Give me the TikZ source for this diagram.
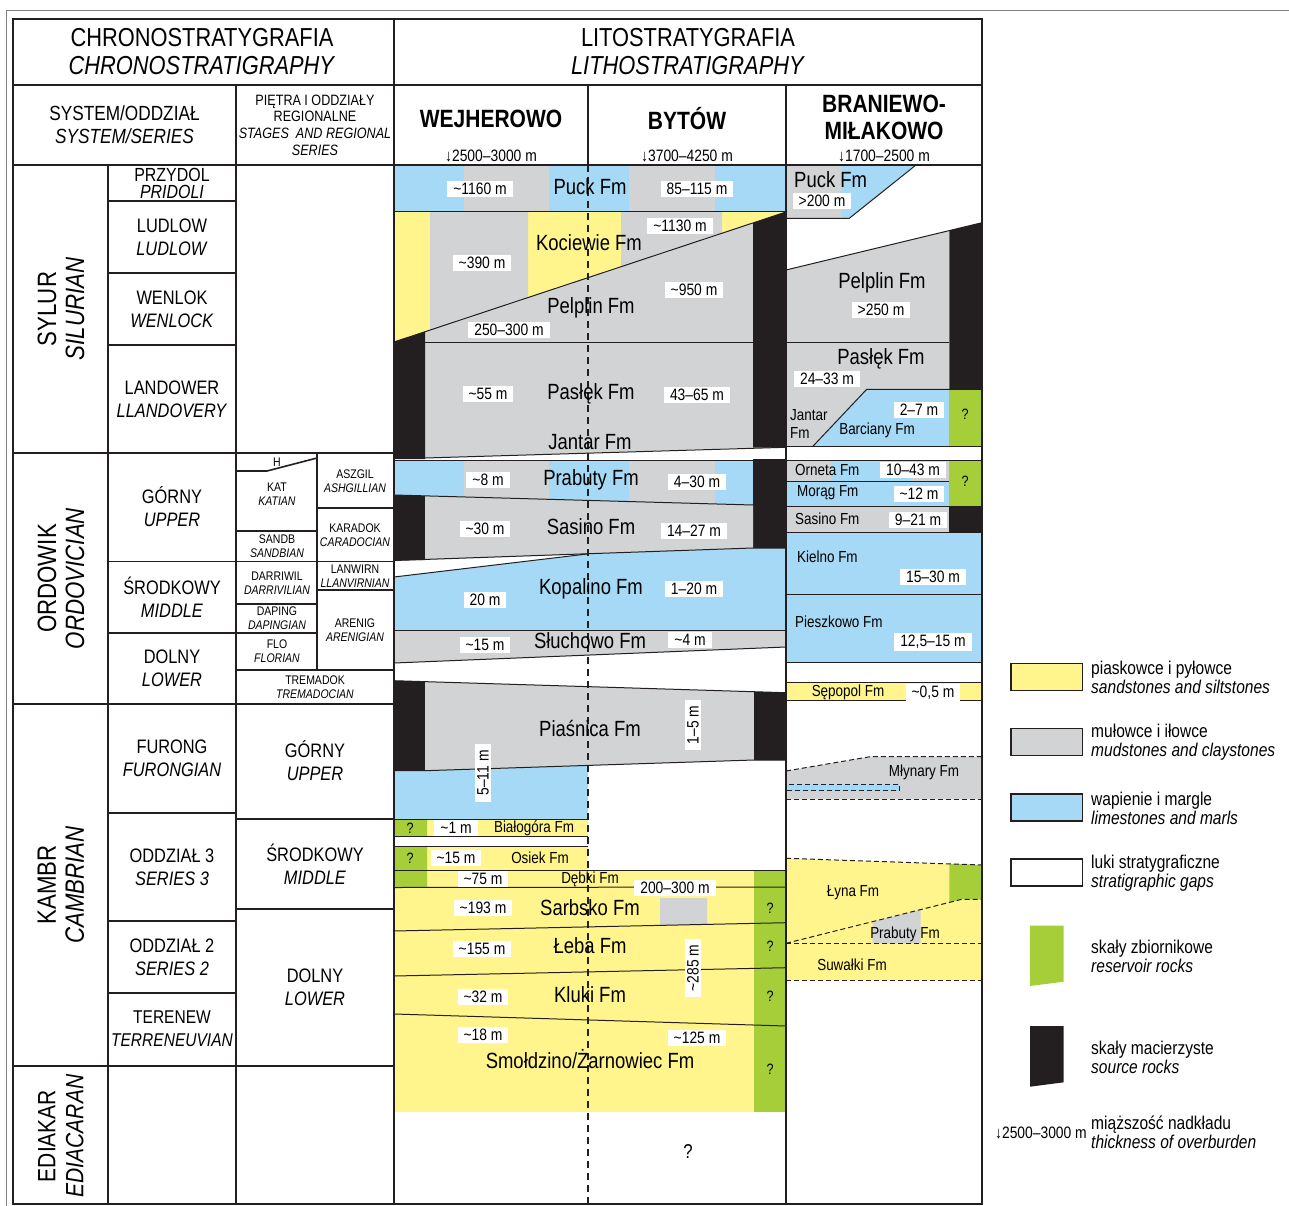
\documentclass[tikz,border=0pt]{standalone}
\usepackage{fontspec}
\setmainfont{Liberation Sans}[FakeStretch=0.84]
\usetikzlibrary{positioning}
\definecolor{sandY}{HTML}{FFF58C}
\definecolor{mudG}{HTML}{D1D3D4}
\definecolor{limeB}{HTML}{A5D9F5}
\definecolor{resG}{HTML}{A6CE39}
\definecolor{srcK}{HTML}{231F20}
\newcommand{\ap}{\textasciitilde}

\begin{document}
\begin{tikzpicture}[x=1pt, y=-1pt,
  grid/.style={draw=srcK, line width=1.6pt},
  bnd/.style={draw=srcK, line width=1pt},
  dbnd/.style={draw=srcK, line width=1pt, dash pattern=on 5pt off 3pt},
  hdr/.style={align=center, inner sep=0pt, font=\fontsize{26}{28}\selectfont},
  hdrb/.style={inner sep=0pt, font=\fontsize{25}{27}\selectfont\bfseries},
  ovb/.style={inner sep=0pt, font=\fontsize{16.5}{16.5}\selectfont},
  ser/.style={align=center, inner sep=0pt, font=\fontsize{19.5}{23}\selectfont},
  stgh/.style={align=center, inner sep=0pt, font=\fontsize{15}{16.7}\selectfont},
  stg/.style={align=center, inner sep=0pt, font=\fontsize{12.5}{13.5}\selectfont},
  sysl/.style={align=center, inner sep=0pt, rotate=90, font=\fontsize{26.5}{28}\selectfont},
  fm/.style={inner sep=0pt, font=\fontsize{22}{22}\selectfont},
  fms/.style={inner sep=0pt, font=\fontsize{16}{16}\selectfont},
  thk/.style={fill=white, inner xsep=6pt, inner ysep=2.5pt, font=\fontsize{16.5}{16.5}\selectfont},
  qm/.style={inner sep=0pt, font=\fontsize{15}{15}\selectfont},
  legbox/.style={draw=srcK, line width=1.2pt},
  leg/.style={anchor=west, align=left, inner sep=0pt, font=\fontsize{18.5}{19}\selectfont}
]
  \useasboundingbox (0,0) rectangle (1289,1206);
  \draw[gray, line width=1pt] (1289,11) -- (6,11) -- (6,1206);

  % Wejherowo - Bytow column
  \fill[limeB] (394,165) rectangle (786,212);
  \fill[mudG] (464,165) rectangle (549,212) (629,165) rectangle (715,212);
  \begin{scope}
    \clip (394,212) -- (786,212) -- (394,342) -- cycle;
    \fill[sandY] (394,212) rectangle (786,342);
    \fill[mudG] (430,212) rectangle (528,342) (621,212) rectangle (722,342);
  \end{scope}
  \fill[mudG] (425,331.7) -- (753,222.9) -- (753,447.7) -- (425,458) -- cycle;
  \fill[srcK] (394,342) -- (425,331.7) -- (425,459) -- (394,459) -- cycle;
  \fill[srcK] (753,222.9) -- (786,212) -- (786,447.3) -- (753,447.7) -- cycle;

  \begin{scope}
    \clip (394,460) -- (753,460) -- (753,505) -- (394,495) -- cycle;
    \fill[limeB] (394,460) rectangle (753,505);
    \fill[mudG] (464,460) rectangle (549,505) (629,460) rectangle (715,505);
  \end{scope}
  \fill[srcK] (753,459) rectangle (786,548);
  \fill[srcK] (394,495) -- (425,496) -- (425,560) -- (394,560.5) -- cycle;
  \fill[mudG] (425,496) -- (753,505) -- (753,548) -- (425,560) -- cycle;
  \fill[limeB] (394,577) -- (587,554) -- (753,548) -- (786,548) -- (786,630) -- (394,630) -- cycle;
  \fill[mudG] (394,630) -- (786,630) -- (786,647) -- (394,663) -- cycle;

  \fill[srcK] (394,680.7) -- (425,681.6) -- (425,770.7) -- (394,770.7) -- cycle;
  \fill[mudG] (425,681.6) -- (754,691.7) -- (754,760) -- (425,770.7) -- cycle;
  \fill[srcK] (754,691.7) -- (786,692.7) -- (786,760) -- (754,760) -- cycle;
  \fill[limeB] (394,770.7) -- (425,770.7) -- (588,765.4) -- (588,819) -- (394,819) -- cycle;

  \fill[sandY] (394,819) rectangle (588,836);
  \fill[sandY] (394,846.7) rectangle (588,870.7);
  \fill[sandY] (394,870.7) rectangle (786,1112);
  \fill[mudG] (660,898) -- (707,898) -- (707,924.4) -- (660,925.4) -- cycle;
  \fill[resG] (394,819) rectangle (427,836) (394,846.7) rectangle (427,887.5);
  \fill[resG] (754,870.7) rectangle (786,1112);

  \draw[bnd] (394,212) -- (786,212);
  \draw[bnd] (394,342) -- (786,212);
  \draw[bnd] (425,342.7) -- (753,342.7);
  \draw[bnd] (425,458) -- (786,447.3);
  \draw[bnd] (394,460) -- (753,460);
  \draw[bnd] (394,495) -- (753,505);
  \draw[bnd] (394,560.5) -- (753,548) -- (786,548);
  \draw[bnd] (394,577) -- (587,554);
  \draw[bnd] (394,630) -- (786,630);
  \draw[bnd] (394,663) -- (786,647);
  \draw[bnd] (394,680.7) -- (786,692.7);
  \draw[bnd] (394,770.7) -- (425,770.7) -- (754,760) -- (786,760);
  \draw[bnd] (394,819) -- (588,819);
  \draw[bnd] (394,836) -- (588,836);
  \draw[bnd] (394,846.7) -- (588,846.7);
  \draw[bnd] (394,870.7) -- (786,870.7);
  \draw[bnd] (394,887.5) -- (786,887);
  \draw[bnd] (394,931) -- (786,922.7);
  \draw[bnd] (394,976) -- (786,967.7);
  \draw[bnd] (394,1014) -- (786,1026);

  % Braniewo - Milakowo column
  \fill[mudG] (786,165) rectangle (841.7,218.3);
  \fill[limeB] (841.7,165) -- (916,165) -- (849.3,218.3) -- (841.7,218.3) -- cycle;
  \draw[bnd] (786,218.3) -- (849.3,218.3) -- (916,165);
  \fill[mudG] (786,270) -- (949.3,230.6) -- (949.3,389.3) -- (866.7,389.3) -- (812.7,446.5) -- (786,446.5) -- cycle;
  \fill[srcK] (949.3,230.6) -- (982,222.7) -- (982,389.3) -- (949.3,389.3) -- cycle;
  \fill[limeB] (866.7,389.3) -- (949.3,389.3) -- (949.3,446.5) -- (812.7,446.5) -- cycle;
  \fill[resG] (949.3,389.3) rectangle (982,446.5);
  \draw[bnd] (786,270) -- (982,222.7);
  \draw[bnd] (786,342.7) -- (949.3,342.7);
  \draw[bnd] (812.7,446.5) -- (866.7,389.3) -- (982,389.3);
  \draw[bnd] (786,446.5) -- (982,446.5);

  \fill[mudG] (786,460) rectangle (949.3,481);
  \fill[limeB] (831,460) rectangle (911,481);
  \fill[limeB] (786,481) rectangle (949.3,506);
  \fill[resG] (949.3,460) rectangle (982,506);
  \fill[mudG] (786,506) rectangle (949.3,532.7);
  \fill[srcK] (949.3,506) rectangle (982,532.7);
  \fill[limeB] (786,532.7) rectangle (982,662);
  \fill[sandY] (786,682.7) rectangle (982,700.7);
  \draw[bnd] (786,481) -- (949.3,481);
  \foreach \yy in {460,506,532.7,594,662,682.7,700.7}
    \draw[bnd] (786,\yy) -- (982,\yy);

  \fill[mudG] (786,771) -- (870,756.7) -- (982,756.7) -- (982,799.3) -- (786,799.3) -- cycle;
  \filldraw[fill=limeB, dbnd] (786,784) rectangle (899.3,790.7);
  \draw[dbnd] (786,771) -- (870,756.7) -- (982,756.7);
  \draw[dbnd] (786,799.3) -- (982,799.3);

  \fill[sandY] (786,858.3) -- (982,865) -- (982,980.7) -- (786,980.7) -- cycle;
  \fill[resG] (949.3,863.7) -- (982,865) -- (982,899.3) -- (961.7,899.3) -- (949.3,902.4) -- cycle;
  \fill[mudG] (872.7,921.6) -- (920.7,909.6) -- (920.7,943.3) -- (872.7,943.3) -- cycle;
  \draw[dbnd] (786,858.3) -- (982,865);
  \draw[dbnd] (786,943.3) -- (961.7,899.3) -- (982,899.3);
  \draw[dbnd] (786,943.3) -- (982,943.3);
  \draw[dbnd] (786,980.7) -- (982,980.7);

  % table grid
  \draw[grid] (13,19) rectangle (982,1204);
  \draw[grid] (13,85) -- (982,85);
  \draw[grid] (13,165) -- (982,165);
  \draw[grid] (394,19) -- (394,1204);
  \draw[grid] (236,85) -- (236,1204);
  \draw[grid] (108,165) -- (108,1204);
  \draw[grid] (786,85) -- (786,1204);
  \draw[grid] (588,85) -- (588,165);
  \draw[grid] (317,453) -- (317,670);
  \foreach \yy in {453,704,1066}
    \draw[grid] (13,\yy) -- (394,\yy);
  \foreach \yy in {201,273,345,561.5,633,813,921,993}
    \draw[grid] (108,\yy) -- (236,\yy);
  \draw[grid] (236,471) -- (267,471) -- (317,458);
  \foreach \yy in {531,561.5,604,633}
    \draw[grid] (236,\yy) -- (317,\yy);
  \foreach \yy in {508,561.5,590}
    \draw[grid] (317,\yy) -- (394,\yy);
  \draw[grid] (236,670) -- (394,670);
  \draw[grid] (236,819) -- (394,819);
  \draw[grid] (236,909) -- (394,909);

  \draw[srcK, line width=1.2pt, dash pattern=on 7pt off 5pt] (588,165) -- (588,1204);

  % headers
  \node[hdr] (chrono) at (202,52) {CHRONOSTRATYGRAFIA\\\textit{CHRONOSTRATIGRAPHY}};
  \node[hdr] (litho) at (688,52) {LITOSTRATYGRAFIA\\\textit{LITHOSTRATIGRAPHY}};
  \node[ser, font=\fontsize{20.5}{23}\selectfont] (sysser) at (124.5,125) {SYSTEM/ODDZIAŁ\\\textit{SYSTEM/SERIES}};
  \node[stgh] (stages) at (315,125) {PIĘTRA I ODDZIAŁY\\REGIONALNE\\\textit{STAGES\ \ AND REGIONAL}\\\textit{SERIES}};
  \node[hdrb] (wej) at (491,119) {WEJHEROWO};
  \node[ovb] (wejOvb) at (491,156) {↓2500–3000 m};
  \node[hdrb] (byt) at (687,119) {BYTÓW};
  \node[ovb] (bytOvb) at (687,156) {↓3700–4250 m};
  \node[hdrb, align=center] (bra) at (884,117) {BRANIEWO-\\MIŁAKOWO};
  \node[ovb] (braOvb) at (884,156) {↓1700–2500 m};

  % systems
  \node[sysl] (sylur) at (61,309) {SYLUR\\\textit{SILURIAN}};
  \node[sysl] (ordowik) at (61,578.5) {ORDOWIK\\\textit{ORDOVICIAN}};
  \node[sysl] (kambr) at (61,885) {KAMBR\\\textit{CAMBRIAN}};
  \node[sysl, font=\fontsize{25}{28}\selectfont] (ediakar) at (61,1136) {EDIAKAR\\\textit{EDIACARAN}};

  % series
  \node[ser, font=\fontsize{19}{17}\selectfont] (pridoli) at (172,183) {PRZYDOL\\\textit{PRIDOLI}};
  \node[ser] (ludlow) at (172,237) {LUDLOW\\\textit{LUDLOW}};
  \node[ser] (wenlok) at (172,309) {WENLOK\\\textit{WENLOCK}};
  \node[ser] (landower) at (172,399) {LANDOWER\\\textit{LLANDOVERY}};
  \node[ser] (ordUp) at (172,507) {GÓRNY\\\textit{UPPER}};
  \node[ser] (ordMid) at (172,597) {ŚRODKOWY\\\textit{MIDDLE}};
  \node[ser] (ordLow) at (172,668) {DOLNY\\\textit{LOWER}};
  \node[ser] (furong) at (172,758) {FURONG\\\textit{FURONGIAN}};
  \node[ser] (odd3) at (172,867) {ODDZIAŁ 3\\\textit{SERIES 3}};
  \node[ser] (odd2) at (172,957) {ODDZIAŁ 2\\\textit{SERIES 2}};
  \node[ser, font=\fontsize{18.5}{23}\selectfont] (terenew) at (172,1029) {TERENEW\\\textit{TERRENEUVIAN}};

  % stages
  \node[stg] (hirn) at (277,462) {H};
  \node[stg] (kat) at (277,494) {KAT\\\textit{KATIAN}};
  \node[stg] (sandb) at (277,546) {SANDB\\\textit{SANDBIAN}};
  \node[stg] (darriwil) at (277,583) {DARRIWIL\\\textit{DARRIVILIAN}};
  \node[stg] (daping) at (277,618) {DAPING\\\textit{DAPINGIAN}};
  \node[stg] (flo) at (277,651) {FLO\\\textit{FLORIAN}};
  \node[stg] (aszgil) at (355,481) {ASZGIL\\\textit{ASHGILLIAN}};
  \node[stg] (karadok) at (355,535) {KARADOK\\\textit{CARADOCIAN}};
  \node[stg] (lanwirn) at (355,576) {LANWIRN\\\textit{LLANVIRNIAN}};
  \node[stg] (arenig) at (355,630) {ARENIG\\\textit{ARENIGIAN}};
  \node[stg] (tremadok) at (315,687) {TREMADOK\\\textit{TREMADOCIAN}};
  \node[ser] (camUp) at (315,761) {GÓRNY\\\textit{UPPER}};
  \node[ser] (camMid) at (315,864) {ŚRODKOWY\\\textit{MIDDLE}};
  \node[ser] (camLow) at (315,987) {DOLNY\\\textit{LOWER}};

  % formations Wejherowo - Bytow
  \node[thk] (puckW) at (480,189) {\ap1160 m};
  \node[fm] (puck) at (590,187) {Puck Fm};
  \node[thk] (puckB) at (697,189) {85–115 m};
  \node[fm] (kociewie) at (589,243) {Kociewie Fm};
  \node[thk] (kocW) at (482,263) {\ap390 m};
  \node[thk] (kocB) at (680,226) {\ap1130 m};
  \node[thk] (pelB) at (694,290) {\ap950 m};
  \node[fm] (pelplin) at (591,308) {Pelplin Fm};
  \node[thk] (pelW) at (509,330) {250–300 m};
  \node[thk] (pasW) at (488,394) {\ap55 m};
  \node[fm] (paslek) at (591,394) {Pasłęk Fm};
  \node[thk] (pasB) at (697,395) {43–65 m};
  \node[fm] (jantar) at (590,442) {Jantar Fm};
  \node[thk] (prbW) at (488,480) {\ap8 m};
  \node[fm] (prabuty) at (591,480) {Prabuty Fm};
  \node[thk] (prbB) at (697,482) {4–30 m};
  \node[thk] (sasW) at (485,529) {\ap30 m};
  \node[fm] (sasino) at (591,527) {Sasino Fm};
  \node[thk] (sasB) at (694,531) {14–27 m};
  \node[thk] (kopW) at (485,600) {20 m};
  \node[fm] (kopalino) at (591,589) {Kopalino Fm};
  \node[thk] (kopB) at (694,589) {1–20 m};
  \node[thk] (sluW) at (485,645) {\ap15 m};
  \node[fm] (sluchowo) at (590,641) {Słuchowo Fm};
  \node[thk] (sluB) at (690,640) {\ap4 m};
  \node[fm] (piasnica) at (590,729) {Piaśnica Fm};
  \node[thk, rotate=90] (piaB) at (693,725) {1–5 m};
  \node[thk, rotate=90] (piaW) at (483,773) {5–11 m};
  \node[qm] (bialQ) at (410,828) {?};
  \node[thk] (bialW) at (456,828) {\ap1 m};
  \node[fms] (bialogora) at (534,828) {Białogóra Fm};
  \node[qm] (osiQ) at (410,858) {?};
  \node[thk] (osiW) at (456,858) {\ap15 m};
  \node[fms] (osiek) at (540,858) {Osiek Fm};
  \node[thk] (debW) at (483,879) {\ap75 m};
  \node[fms] (debki) at (590,879) {Dębki Fm};
  \node[thk] (sarB) at (675,888) {200–300 m};
  \node[thk] (sarW) at (483,908) {\ap193 m};
  \node[fm] (sarbsko) at (590,908) {Sarbsko Fm};
  \node[qm] (sarQ) at (770,908) {?};
  \node[thk] (lebW) at (482,949) {\ap155 m};
  \node[fm] (leba) at (590,946) {Łeba Fm};
  \node[qm] (lebQ) at (770,946) {?};
  \node[thk, rotate=90] (lebB) at (693,968) {\ap285 m};
  \node[thk] (kluW) at (483,997) {\ap32 m};
  \node[fm] (kluki) at (590,995) {Kluki Fm};
  \node[qm] (kluQ) at (770,996) {?};
  \node[thk] (smoW) at (483,1035) {\ap18 m};
  \node[thk] (smoB) at (697,1038) {\ap125 m};
  \node[fm] (smoldzino) at (590,1059) {Smołdzino/Żarnowiec Fm};
  \node[qm] (smoQ) at (770,1069) {?};
  \node[fm, font=\fontsize{20}{20}\selectfont] (ediQ) at (688,1152) {?};

  % formations Braniewo - Milakowo
  \node[fm, anchor=west] (puckBr) at (794,180) {Puck Fm};
  \node[thk] (puckBrT) at (822,201) {>200 m};
  \node[fm] (pelBr) at (882,283) {Pelplin Fm};
  \node[thk] (pelBrT) at (881,310) {>250 m};
  \node[fm] (pasBr) at (881,359) {Pasłęk Fm};
  \node[thk] (pasBrT) at (827,379) {24–33 m};
  \node[fms, anchor=west, align=left, font=\fontsize{16}{18}\selectfont] (jantarBr) at (790,424) {Jantar\\Fm};
  \node[thk] (barT) at (919,410) {2–7 m};
  \node[fms] (barciany) at (877,430) {Barciany Fm};
  \node[qm] (barQ) at (965,414) {?};
  \node[fms, anchor=west] (orneta) at (795,470) {Orneta Fm};
  \node[thk] (ornT) at (913,470) {10–43 m};
  \node[qm] (ornQ) at (965,481) {?};
  \node[fms, anchor=west] (morag) at (797,493) {Morąg Fm};
  \node[thk] (morT) at (919,494) {\ap12 m};
  \node[fms, anchor=west] (sasBr) at (795,519) {Sasino Fm};
  \node[thk] (sasBrT) at (918,520) {9–21 m};
  \node[fms, anchor=west] (kielno) at (797,557) {Kielno Fm};
  \node[thk] (kieT) at (933,577) {15–30 m};
  \node[fms, anchor=west] (pieszkowo) at (795,622) {Pieszkowo Fm};
  \node[thk] (pieT) at (933,642) {12,5–15 m};
  \node[fms] (sepopol) at (848,692) {Sępopol Fm};
  \node[thk] (sepT) at (933,693) {\ap0,5 m};
  \node[fms] (mlynary) at (924,772) {Młynary Fm};
  \node[fms] (lyna) at (853,893) {Łyna Fm};
  \node[fms] (prbBr) at (905,934) {Prabuty Fm};
  \node[fms] (suwalki) at (852,965) {Suwałki Fm};

  % legend
  \filldraw[fill=sandY, legbox] (1011,663.3) rectangle (1082.3,690.7);
  \filldraw[fill=mudG, legbox] (1011,728.3) rectangle (1082.3,755.7);
  \filldraw[fill=limeB, legbox] (1011,794) rectangle (1082.3,821);
  \filldraw[fill=white, legbox] (1011,859) rectangle (1082.3,886);
  \fill[resG] (1030,925.7) -- (1063.7,925.7) -- (1063.7,981.7) -- (1030,986) -- cycle;
  \fill[srcK] (1030,1026) -- (1063.7,1026) -- (1063.7,1082.3) -- (1030,1086.7) -- cycle;
  \node[leg] (legSand) at (1091,677) {piaskowce i pyłowce\\\textit{sandstones and siltstones}};
  \node[leg] (legMud) at (1091,742) {mułowce i iłowce\\\textit{mudstones and claystones}};
  \node[leg] (legLime) at (1091,808) {wapienie i margle\\\textit{limestones and marls}};
  \node[leg] (legGap) at (1091,873) {luki stratygraficzne\\\textit{stratigraphic gaps}};
  \node[leg] (legRes) at (1091,956) {skały zbiornikowe\\\textit{reservoir rocks}};
  \node[leg] (legSrc) at (1091,1057) {skały macierzyste\\\textit{source rocks}};
  \node[leg] (legOvb) at (1091,1132) {miąższość nadkładu\\\textit{thickness of overburden}};
  \node[ovb, anchor=east] (legOvbT) at (1087,1133) {↓2500–3000 m};
\end{tikzpicture}
\end{document}
